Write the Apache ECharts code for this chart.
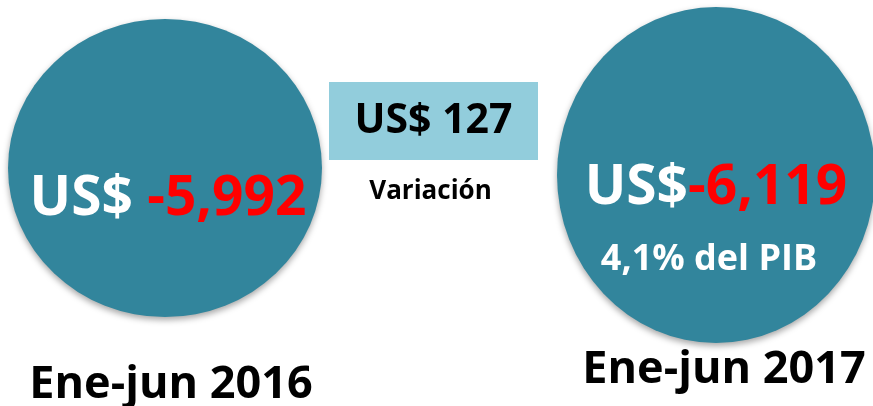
<!DOCTYPE html>
<html>
<head>
<meta charset="utf-8">
<script src="https://cdn.jsdelivr.net/npm/echarts@6/dist/echarts.min.js"></script>
<style>
  html, body { margin: 0; padding: 0; background: #fff; }
  #chart { width: 873px; height: 406px; }
</style>
</head>
<body>
<div id="chart"></div>
<script>
// datos
const periods = ['Ene-jun 2016', 'Ene-jun 2017'];
const balances = [-5992, -6119];
const variationLabel = 'Variación';
const variation = 127;
const pibShare = ['', '4,1%'];
const categories = [periods[0], variationLabel, periods[1]];

const FONT = 'Open Sans';
const fmt = v => v.toLocaleString('en-US');

let myChart = echarts.init(document.getElementById('chart'), null, { renderer: 'canvas' });

let option = {
  animation: false,
  grid: { left: 165, right: 157, top: 0, height: 340 },
  xAxis: {
    type: 'category',
    data: categories,
    boundaryGap: false,
    show: false
  },
  yAxis: {
    type: 'category',
    data: [''],
    show: false
  },
  series: [
    {
      // circulos
      name: 'saldo',
      type: 'scatter',
      silent: true,
      data: [
        { value: [periods[0], ''], symbolSize: [314, 298], symbolOffset: [0, -2] },
        { value: [periods[1], ''], symbolSize: [318, 336], symbolOffset: [0, 5] }
      ],
      symbol: 'circle',
      itemStyle: {
        color: '#32859c',
        opacity: 1,
        shadowBlur: 6,
        shadowOffsetY: 3,
        shadowColor: 'rgba(0,0,0,0.35)'
      },
      label: {
        show: true,
        position: 'inside',
        fontFamily: FONT,
        formatter: p => {
          const i = p.dataIndex;
          if (i === 0) return '{w|US$ }{r|' + fmt(balances[i]) + '}';
          return '{w|US$}{r|' + fmt(balances[i]) + '}\n{s|' + pibShare[i] + ' del PIB}';
        },
        rich: {
          w: { color: '#fff', fontSize: 55, fontWeight: 'bold', fontFamily: FONT, lineHeight: 71 },
          r: { color: '#ff0000', fontSize: 55, fontWeight: 'bold', fontFamily: FONT, lineHeight: 71 },
          s: { color: '#fff', fontSize: 36, fontWeight: 'bold', fontFamily: FONT, lineHeight: 71, padding: [0, 14, 0, 0] }
        }
      },
      labelLayout: p => p.dataIndex === 0 ? { dx: 3, dy: 31 } : { dx: 0, dy: 49 }
    },
    {
      // recuadro variacion
      name: 'variacion',
      type: 'scatter',
      silent: true,
      data: [{ value: [variationLabel, ''] }],
      symbol: 'rect',
      symbolSize: [209, 78],
      symbolOffset: [-7, -49],
      itemStyle: { color: '#92cddc', opacity: 1 },
      label: {
        show: true,
        position: 'inside',
        formatter: () => 'US$ ' + variation,
        color: '#000',
        fontSize: 41,
        fontWeight: 'bold',
        fontFamily: FONT
      }
    },
    {
      // textos
      name: 'etiquetas',
      type: 'scatter',
      silent: true,
      symbolSize: 1,
      itemStyle: { color: 'rgba(0,0,0,0)', opacity: 1 },
      data: categories.map(c => ({ value: [c, ''] })),
      label: {
        show: true,
        position: 'inside',
        formatter: p => categories[p.dataIndex],
        color: '#000',
        fontWeight: 'bold',
        fontFamily: FONT,
        fontSize: 45
      },
      labelLayout: p => {
        if (p.dataIndex === 0) return { dx: 6, dy: 215 };
        if (p.dataIndex === 1) return { dx: -10, dy: 22, fontSize: 26 };
        return { dx: 8, dy: 200 };
      }
    }
  ]
};

option && myChart.setOption(option);
</script>
</body>
</html>
